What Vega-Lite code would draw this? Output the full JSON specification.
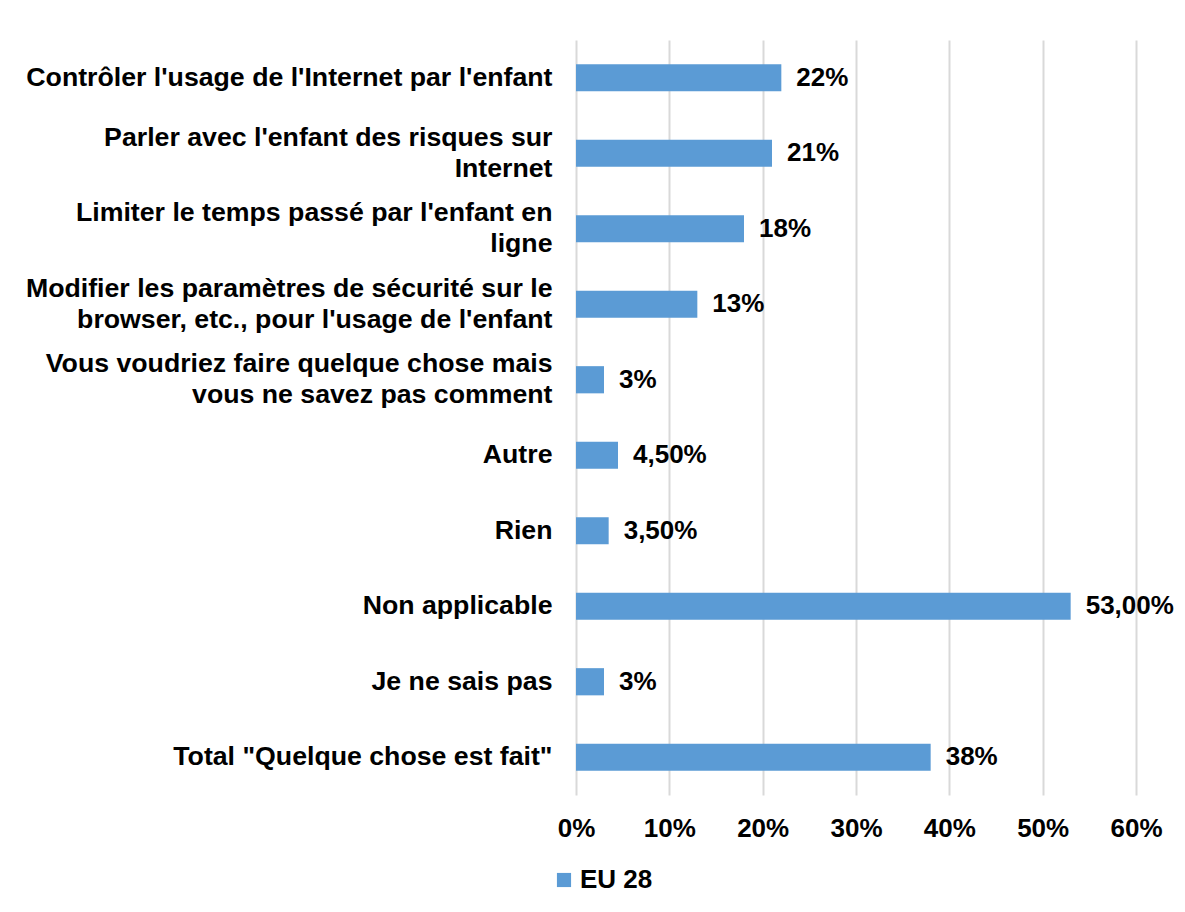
{
  "$schema": "https://vega.github.io/schema/vega-lite/v6.json",
  "autosize": "none",
  "width": 560,
  "height": 755,
  "padding": {"left": 576, "top": 40, "right": 49, "bottom": 117},
  "background": "white",
  "config": {
    "view": {"stroke": null},
    "font": "Liberation Sans",
    "axis": {"labelFont": "Liberation Sans", "labelFontWeight": "bold", "labelColor": "black"},
    "legend": {"labelFont": "Liberation Sans", "labelFontWeight": "bold", "labelColor": "black"}
  },
  "data": {
    "values": [
      {"cat": "Contrôler l'usage de l'Internet par l'enfant", "value": 22, "lbl": "22%", "serie": "EU 28"},
      {"cat": "Parler avec l'enfant des risques sur|Internet", "value": 21, "lbl": "21%", "serie": "EU 28"},
      {"cat": "Limiter le temps passé par l'enfant en|ligne", "value": 18, "lbl": "18%", "serie": "EU 28"},
      {"cat": "Modifier les paramètres de sécurité sur le|browser, etc., pour l'usage de l'enfant", "value": 13, "lbl": "13%", "serie": "EU 28"},
      {"cat": "Vous voudriez faire quelque chose mais|vous ne savez pas comment", "value": 3, "lbl": "3%", "serie": "EU 28"},
      {"cat": "Autre", "value": 4.5, "lbl": "4,50%", "serie": "EU 28"},
      {"cat": "Rien", "value": 3.5, "lbl": "3,50%", "serie": "EU 28"},
      {"cat": "Non applicable", "value": 53, "lbl": "53,00%", "serie": "EU 28"},
      {"cat": "Je ne sais pas", "value": 3, "lbl": "3%", "serie": "EU 28"},
      {"cat": "Total \"Quelque chose est fait\"", "value": 38, "lbl": "38%", "serie": "EU 28"}
    ]
  },
  "encoding": {
    "y": {
      "field": "cat", "type": "nominal", "sort": null,
      "scale": {"paddingInner": 0.64, "paddingOuter": 0.32},
      "axis": {
        "title": null, "domain": false, "ticks": false, "grid": false,
        "labelFontSize": 26.7, "labelPadding": 24, "labelLimit": 600,
        "labelLineHeight": 31,
        "labelOffset": {"expr": "indexof(datum.value, '|') >= 0 ? -15.5 : 0"},
        "labelExpr": "split(datum.label, '|')"
      }
    },
    "x": {
      "field": "value", "type": "quantitative",
      "scale": {"domain": [0, 60], "nice": false},
      "axis": {
        "title": null, "domain": false, "ticks": false, "grid": true,
        "gridColor": "#D9D9D9", "gridWidth": 2,
        "values": [0, 10, 20, 30, 40, 50, 60],
        "labelExpr": "datum.value + '%'",
        "labelFlush": false, "labelOverlap": false,
        "labelFontSize": 26, "labelPadding": 20
      }
    }
  },
  "layer": [
    {
      "mark": {"type": "bar"},
      "encoding": {
        "color": {
          "field": "serie", "type": "nominal",
          "scale": {"range": ["#5B9BD5"]},
          "legend": {
            "title": null, "orient": "none", "legendX": -25, "legendY": 827,
            "symbolType": "square", "symbolSize": 200, "symbolOpacity": 1, "symbolStrokeWidth": 0,
            "labelFontSize": 26, "labelOffset": 3
          }
        }
      }
    },
    {
      "mark": {"type": "text", "align": "left", "baseline": "middle", "dx": 15, "fontSize": 26, "fontWeight": "bold", "color": "black", "font": "Liberation Sans"},
      "encoding": {"text": {"field": "lbl"}}
    }
  ]
}
